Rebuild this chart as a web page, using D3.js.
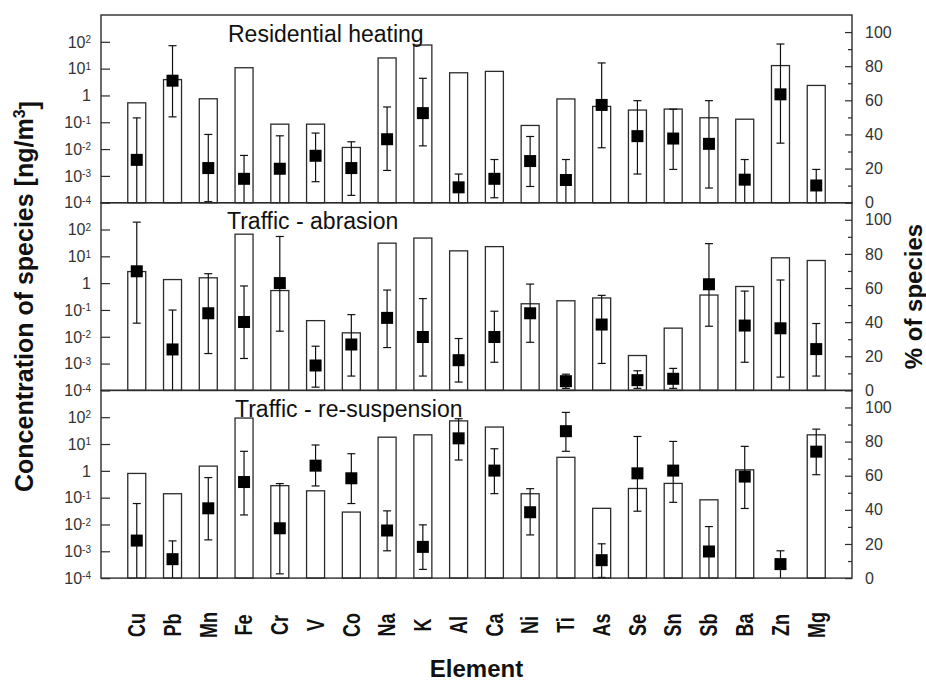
<!DOCTYPE html>
<html lang="en">
<head>
    <meta charset="UTF-8">
    <title>Concentration of species by source</title>
    <script src="https://d3js.org/d3.v7.min.js"></script>
    <style>
        body {
            margin: 0;
            background: #fff;
            font-family: "Liberation Sans", Arial, sans-serif;
        }
        svg {
            display: block;
        }
        .frame {
            fill: none;
            stroke: #2b2b2b;
            stroke-width: 1.4;
        }
        .bar {
            fill: #fff;
            stroke: #2b2b2b;
            stroke-width: 1.3;
        }
        .err {
            stroke: #111;
            stroke-width: 1.2;
        }
        .tick-label {
            font-size: 16px;
            fill: #333;
        }
        .axis-label {
            font-weight: bold;
            fill: #111;
        }
    </style>
</head>
<body>
    <svg width="926" height="682"></svg>

    <script>
        // Elements on the x axis
        const elements = ["Cu", "Pb", "Mn", "Fe", "Cr", "V", "Co", "Na", "K", "Al",
                          "Ca", "Ni", "Ti", "As", "Se", "Sn", "Sb", "Ba", "Zn", "Mg"];

        const panelTitles = ["Residential heating", "Traffic - abrasion", "Traffic - re-suspension"];

        // left axis ticks (log) and right axis ticks (%)
        const logTickExps = [-4, -3, -2, -1, 0, 1, 2];
        const pctTicks = [0, 20, 40, 60, 80, 100];
        const pctMinorTicks = [10, 30, 50, 70, 90];

        // bars: concentration [ng/m3]
        const heatingConc = [0.53, 3.9, 0.75, 10.8, 0.085, 0.085, 0.0115, 25, 76, 7,
                             7.9, 0.076, 0.74, 0.39, 0.285, 0.31, 0.147, 0.13, 13, 2.36];
        const abrasionConc = [2.7, 1.36, 1.58, 67, 0.53, 0.04, 0.014, 31, 48, 16,
                              23, 0.17, 0.22, 0.28, 0.002, 0.021, 0.36, 0.75, 8.8, 7];
        const resuspConc = [0.8, 0.14, 1.5, 93, 0.28, 0.18, 0.029, 18, 22, 73,
                            43, 0.14, 3.2, 0.04, 0.22, 0.34, 0.083, 1.09, null, 22];

        // squares: % of species, with error range
        const heatingPct = [25.1, 71.5, 20.3, 14, 19.9, 27.5, 20.3, 37.2, 52.5, 9,
                            14, 24.4, 13.3, 57.3, 39, 37.6, 34.5, 13.5, 63.5, 10.1];
        const heatingPctHi = [49.7, 92, 40, 27.7, 39.2, 40.8, 35.7, 56.1, 72.9, 16.8,
                              25.3, 38.8, 25.3, 81.9, 59.8, 54.8, 59.8, 25.3, 93, 19.5];
        const heatingPctLo = [0, 50.3, 0.6, 0, 0, 12.3, 4.3, 18.9, 33.3, 0,
                              2.9, 9.5, 0, 32.2, 16.8, 19.5, 8.6, 0, 34.9, 0];

        const abrasionPct = [69.8, 24, 45.2, 40.1, 62.9, 14.6, 26.9, 42.5, 31.3, 17.7,
                             31.3, 45.2, 5.4, 38.6, 6, 6.8, 62.2, 38, 36.4, 24.2];
        const abrasionPctHi = [98.6, 47.1, 68.4, 61.2, 90.2, 25.9, 44.4, 58.8, 53.8, 30.4,
                               46.4, 62.3, 9.5, 55.7, 11.5, 12.9, 86, 58.2, 64.7, 39.2];
        const abrasionPctLo = [39.4, 0, 21.6, 18.7, 34.7, 1.9, 8.4, 25.1, 8.4, 4.9,
                               16.5, 28.2, 1.2, 15.8, 1.2, 1.2, 37.6, 16.5, 7.8, 8.4];

        const resuspPct = [22, 11.1, 40.9, 56.3, 29.2, 65.9, 58.5, 27.9, 18.3, 81.9,
                           63, 38.6, 86.1, 10.5, 61.4, 63, 15.6, 59.5, 8.2, 74.1];
        const resuspPctHi = [43.7, 21.8, 58.9, 74.3, 55.4, 78, 72.9, 39.4, 31.2, 93.4,
                             75.8, 52.4, 97.1, 20.1, 83, 80.1, 30.2, 77.2, 16, 87.3];
        const resuspPctLo = [0, 0, 22.4, 37, 2.5, 54, 43.7, 16, 5.1, 69.2,
                             49.5, 25.3, 74.3, 0.4, 39.2, 44.4, 0, 40.8, 0, 60.6];

        // build panel table from the arrays
        const panels = [
            { title: panelTitles[0], conc: heatingConc, pct: heatingPct, hi: heatingPctHi, lo: heatingPctLo },
            { title: panelTitles[1], conc: abrasionConc, pct: abrasionPct, hi: abrasionPctHi, lo: abrasionPctLo },
            { title: panelTitles[2], conc: resuspConc, pct: resuspPct, hi: resuspPctHi, lo: resuspPctLo }
        ];

        // layout
        const left = 101, right = 852;
        const top0 = 15;
        const panelH = 187.7;
        const titleX = [228, 227, 235];
        const barW = 18, sq = 12, capW = 8;

        const svg = d3.select("svg");

        const x = d3.scalePoint()
            .domain(elements)
            .range([left, right])
            .padding(1);

        panels.forEach((p, i) => {
            const top = top0 + i * panelH;
            const bottom = top + panelH;

            const yLog = d3.scaleLog().domain([1e-4, 1e3]).range([bottom, top]);
            const yPct = d3.scaleLinear().domain([0, 110]).range([bottom, top]);

            const g = svg.append("g");

            // bars (concentration)
            const barData = elements.map((e, k) => ({ e, v: p.conc[k] })).filter(d => d.v != null);
            g.selectAll(".bar")
                .data(barData)
                .join("rect")
                .attr("class", "bar")
                .attr("x", d => x(d.e) - barW / 2)
                .attr("y", d => yLog(d.v))
                .attr("width", barW)
                .attr("height", d => yLog(1e-4) - yLog(d.v));

            // error bars + squares (% of species)
            const ptData = elements.map((e, k) => ({ e, v: p.pct[k], hi: p.hi[k], lo: p.lo[k] }));
            const eg = g.selectAll(".errg")
                .data(ptData)
                .join("g")
                .attr("class", "errg");
            eg.append("line")
                .attr("class", "err")
                .attr("x1", d => x(d.e)).attr("x2", d => x(d.e))
                .attr("y1", d => yPct(d.lo)).attr("y2", d => yPct(d.hi));
            eg.append("line")
                .attr("class", "err")
                .attr("x1", d => x(d.e) - capW / 2).attr("x2", d => x(d.e) + capW / 2)
                .attr("y1", d => yPct(d.hi)).attr("y2", d => yPct(d.hi));
            eg.filter(d => d.lo > 0).append("line")
                .attr("class", "err")
                .attr("x1", d => x(d.e) - capW / 2).attr("x2", d => x(d.e) + capW / 2)
                .attr("y1", d => yPct(d.lo)).attr("y2", d => yPct(d.lo));
            eg.append("rect")
                .attr("x", d => x(d.e) - sq / 2)
                .attr("y", d => yPct(d.v) - sq / 2)
                .attr("width", sq)
                .attr("height", sq)
                .attr("fill", "#000");

            // left axis ticks (inward)
            const leftAxis = g.append("g")
                .attr("transform", `translate(${left},0)`)
                .call(d3.axisLeft(yLog)
                    .tickValues(logTickExps.map(k => Math.pow(10, k)))
                    .tickSize(-9)
                    .tickFormat(""));
            leftAxis.select(".domain").remove();
            leftAxis.selectAll("line").attr("stroke", "#2b2b2b").attr("stroke-width", 1.2);

            // left tick labels with superscripts
            const lbl = g.selectAll(".llab")
                .data(logTickExps)
                .join("text")
                .attr("class", "tick-label llab")
                .attr("x", 91)
                .attr("y", k => yLog(Math.pow(10, k)))
                .attr("dy", "0.36em")
                .attr("text-anchor", "end");
            lbl.each(function(k) {
                const t = d3.select(this);
                if (k === 0) {
                    t.text("1");
                } else {
                    t.append("tspan").text("10");
                    t.append("tspan")
                        .attr("dy", "-0.45em")
                        .attr("font-size", "10px")
                        .text(k < 0 ? "-" + Math.abs(k) : String(k));
                }
            });

            // right axis
            const rightAxis = g.append("g")
                .attr("transform", `translate(${right},0)`)
                .call(d3.axisRight(yPct)
                    .tickValues(pctTicks)
                    .tickSize(-7)
                    .tickPadding(13)
                    .tickFormat(d3.format("d")));
            rightAxis.select(".domain").remove();
            rightAxis.selectAll("line").attr("stroke", "#2b2b2b").attr("stroke-width", 1.2);
            rightAxis.selectAll("text")
                .attr("class", "tick-label")
                .attr("font-family", null)
                .attr("font-size", null);

            const minorAxis = g.append("g")
                .attr("transform", `translate(${right},0)`)
                .call(d3.axisRight(yPct)
                    .tickValues(pctMinorTicks)
                    .tickSize(-4)
                    .tickFormat(""));
            minorAxis.select(".domain").remove();
            minorAxis.selectAll("line").attr("stroke", "#2b2b2b").attr("stroke-width", 1.2);

            // frame
            g.append("rect")
                .attr("class", "frame")
                .attr("x", left)
                .attr("y", top)
                .attr("width", right - left)
                .attr("height", panelH);

            // panel title
            g.append("text")
                .attr("x", titleX[i])
                .attr("y", top + 26.5)
                .attr("font-size", "23px")
                .attr("fill", "#111")
                .text(p.title);
        });

        const plotBottom = top0 + 3 * panelH;

        // element labels (rotated)
        svg.selectAll(".xlab")
            .data(elements)
            .join("text")
            .attr("class", "axis-label xlab")
            .attr("transform", d => `translate(${x(d)},625) rotate(-90) scale(1,1.28)`)
            .attr("text-anchor", "middle")
            .attr("dy", "0.36em")
            .attr("font-size", "18px")
            .text(d => d);

        // axis titles
        svg.append("text")
            .attr("class", "axis-label")
            .attr("x", (left + right) / 2)
            .attr("y", 677)
            .attr("text-anchor", "middle")
            .attr("font-size", "24px")
            .text("Element");

        const yTitle = svg.append("text")
            .attr("class", "axis-label")
            .attr("transform", `translate(33,${(top0 + plotBottom) / 2}) rotate(-90)`)
            .attr("text-anchor", "middle")
            .attr("font-size", "25px");
        yTitle.append("tspan").text("Concentration of species [ng/m");
        yTitle.append("tspan").attr("dy", "-0.5em").attr("font-size", "16px").text("3");
        yTitle.append("tspan").attr("dy", "0.5em").text("]");

        svg.append("text")
            .attr("class", "axis-label")
            .attr("transform", `translate(922,${(top0 + plotBottom) / 2}) rotate(-90)`)
            .attr("text-anchor", "middle")
            .attr("font-size", "24px")
            .text("% of species");
    </script>
</body>
</html>
